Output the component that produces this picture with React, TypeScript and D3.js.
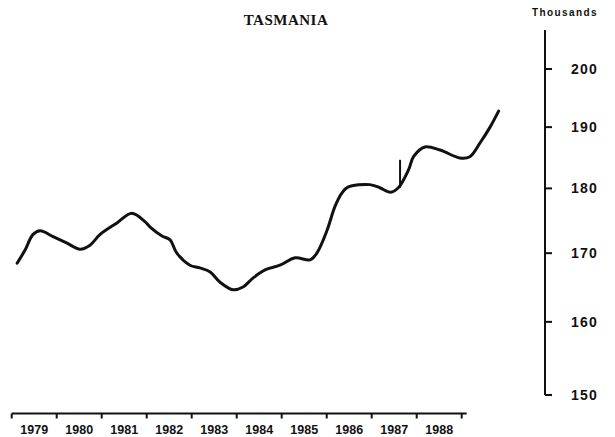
import React from 'react'
import * as d3 from 'd3'

const W = 615
const H = 437

// fractional years along the x axis (1979 = start of the 1979 band)
const years = [
  1979.12, 1979.30, 1979.47, 1979.63, 1979.92, 1980.23, 1980.52, 1980.74, 1980.96,
  1981.34, 1981.67, 1981.96, 1982.07, 1982.34, 1982.52, 1982.67, 1982.96, 1983.18,
  1983.41, 1983.63, 1983.92, 1984.14, 1984.36, 1984.63, 1984.96, 1985.30, 1985.63,
  1985.78, 1986.01, 1986.18, 1986.34, 1986.47, 1986.96, 1987.18, 1987.42, 1987.59,
  1987.82, 1987.93, 1988.18, 1988.52, 1988.96, 1989.18, 1989.41, 1989.63, 1989.82,
]

// population, thousands
const values = [
  168.5, 170.5, 172.8, 173.4, 172.5, 171.5, 170.6, 171.2, 172.8,
  174.6, 176.1, 174.8, 174.0, 172.6, 172.0, 170.0, 168.2, 167.8,
  167.2, 165.7, 164.6, 165.0, 166.3, 167.5, 168.2, 169.3, 169.0,
  170.0, 173.5, 177.1, 179.3, 180.2, 180.6, 180.1, 179.4, 180.1,
  183.0, 185.1, 186.7, 186.2, 184.9, 185.1, 187.4, 190.0, 192.7,
]

// series break marker
const breakYear = 1987.63
const breakRange = [180.1, 184.6]

const yearLabels = ['1979', '1980', '1981', '1982', '1983', '1984', '1985', '1986', '1987', '1988']
const yTicks = [150, 160, 170, 180, 190, 200]

const sans = '"Liberation Sans", Arial, sans-serif'

export default function App() {
  const x = d3.scaleLinear().domain([1979, 1989]).range([11.7, 461.7])
  const y = d3.scaleLog().domain([150, 200]).range([395, 69])

  const pts: [number, number][] = years.map((yr, i) => [yr, values[i]])
  const line = d3.line<[number, number]>()
    .x(d => x(d[0]))
    .y(d => y(d[1]))
    .curve(d3.curveCatmullRom.alpha(0.5))

  const axisX = 545
  const axisTop = y(207)
  const baseY = 413.5
  const boundaries = d3.range(1979, 1990)

  return (
    <svg width={W} height={H} style={{ position: 'absolute', left: 0, top: 0, background: '#fff' }}>
      <text x={286} y={25} textAnchor="middle" fontFamily='"Liberation Serif", "Times New Roman", serif'
        fontWeight="bold" fontSize={15} letterSpacing={0.5} fill="#111">TASMANIA</text>

      <text x={565} y={16} textAnchor="middle" fontFamily={sans} fontWeight="bold" fontSize={10}
        letterSpacing={1.4} fill="#111">Thousands</text>

      {/* right axis */}
      <line x1={axisX} x2={axisX} y1={axisTop} y2={y(150)} stroke="#111" strokeWidth={2} />
      {yTicks.map(t => (
        <g key={t}>
          <line x1={axisX} x2={axisX + 7} y1={y(t)} y2={y(t)} stroke="#111" strokeWidth={2} />
          <text x={571} y={y(t)} dy="0.36em" fontFamily={sans} fontWeight="bold" fontSize={14}
            letterSpacing={1.2} fill="#111">{t}</text>
        </g>
      ))}

      {/* bottom axis */}
      <line x1={x(1979)} x2={x(1989) + 5} y1={baseY} y2={baseY} stroke="#111" strokeWidth={2} />
      {boundaries.map(b => (
        <line key={b} x1={x(b)} x2={x(b)} y1={baseY} y2={baseY + 5} stroke="#111" strokeWidth={2} />
      ))}
      {yearLabels.map((l, i) => (
        <text key={l} x={x(1979 + i + 0.5)} y={434} textAnchor="middle" fontFamily={sans}
          fontWeight="bold" fontSize={12.5} fill="#111">{l}</text>
      ))}

      {/* series */}
      <path d={line(pts) || ''} fill="none" stroke="#111" strokeWidth={3} strokeLinejoin="round" strokeLinecap="round" />
      <line x1={x(breakYear)} x2={x(breakYear)} y1={y(breakRange[0])} y2={y(breakRange[1])}
        stroke="#111" strokeWidth={2} />
    </svg>
  )
}
